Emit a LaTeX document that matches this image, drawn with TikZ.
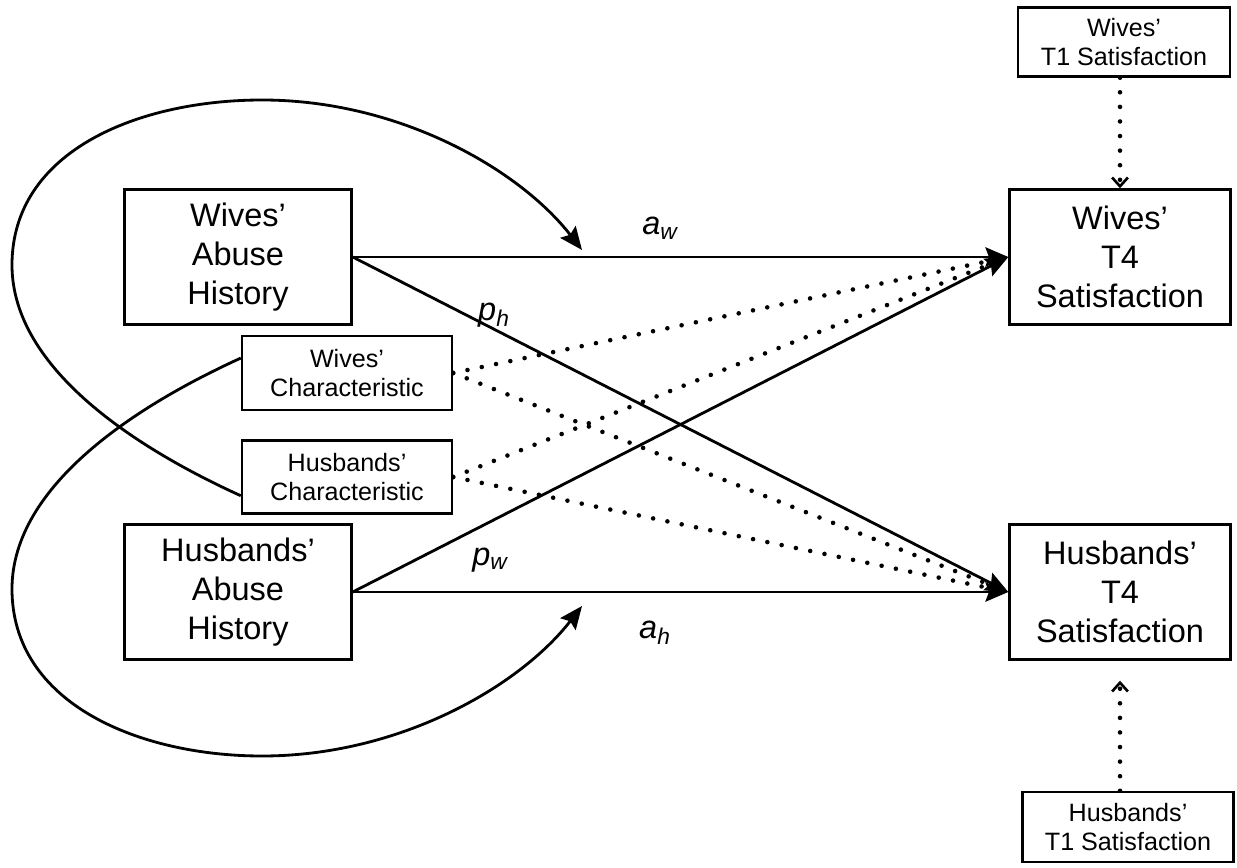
\documentclass[tikz,border=0pt]{standalone}
\usepackage{fontspec}
\setmainfont{Liberation Sans}
\usetikzlibrary{arrows.meta}
\newcommand{\boxfontL}{\fontsize{18.5}{22}\selectfont}
\newcommand{\boxfontS}{\fontsize{14.3}{16.5}\selectfont}
\tikzset{
  bigbox/.style={draw, line width=1.4pt, align=center, font=\boxfontL, inner sep=0pt, minimum height=2.7cm},
  smallbox/.style={draw, line width=1.4pt, align=center, font=\boxfontS, inner sep=0pt},
  solidarrow/.style={line width=1.6pt, -{Stealth[length=13pt,width=11pt,inset=2pt]}},
  dotline/.style={line width=2.6pt, line cap=round, dash pattern=on 0pt off 8.3pt},
  pathlab/.style={font=\boxfontL\itshape}
}

\begin{document}
\begin{tikzpicture}[x=0.02cm,y=-0.02cm]
\useasboundingbox (0,0) rectangle (1237,868);

\node[bigbox, minimum width=4.54cm] (wa) at (238,257) {Wives'\\Abuse\\History};
\node[bigbox, minimum width=4.54cm] (ha) at (238,592) {Husbands'\\Abuse\\History};
\node[bigbox, minimum width=4.42cm] (w4) at (1120,257) {Wives'\\T4\\Satisfaction};
\node[bigbox, minimum width=4.42cm] (h4) at (1120,592) {Husbands'\\T4\\Satisfaction};
\node[smallbox, minimum width=4.2cm, minimum height=1.48cm] (wc) at (347,373) {Wives'\\Characteristic};
\node[smallbox, minimum width=4.2cm, minimum height=1.46cm] (hc) at (347,477) {Husbands'\\Characteristic};
\node[smallbox, minimum width=4.24cm, minimum height=1.38cm] (w1) at (1124,42) {Wives'\\T1 Satisfaction};
\node[smallbox, minimum width=4.22cm, minimum height=1.4cm] (h1) at (1128,827) {Husbands'\\T1 Satisfaction};

% paths between partners
\draw[solidarrow] (wa.east) -- (w4.west);
\draw[solidarrow] (wa.east) -- (h4.west);
\draw[solidarrow] (ha.east) -- (w4.west);
\draw[solidarrow] (ha.east) -- (h4.west);
\node[pathlab] (law) at (660,228) {a\textsubscript{w}};
\node[pathlab] (lph) at (494,315) {p\textsubscript{h}};
\node[pathlab] (lpw) at (490,560) {p\textsubscript{w}};
\node[pathlab] (lah) at (655,633) {a\textsubscript{h}};

% covariates
\draw[dotline] (wc.east) -- (w4.west);
\draw[dotline] (wc.east) -- (h4.west);
\draw[dotline] (hc.east) -- (w4.west);
\draw[dotline] (hc.east) -- (h4.west);
\draw[dotline, -{Straight Barb[length=5pt,width=9pt,line width=1.5pt]}] (w1.south -| w4) -- (w4.north);
\draw[dotline, shorten >=0.4cm, -{Straight Barb[length=5pt,width=9pt,line width=1.5pt]}] (h1.north -| h4) -- (h4.south);

% moderation loops
\coordinate (tipw) at (582,250);
\coordinate (tiph) at (582,606);
\draw[solidarrow] (hc.190) .. controls (140,450) and (12,370) .. (12,265)
  .. controls (12,150) and (140,100) .. (262,100)
  .. controls (400,100) and (520,170) .. (tipw);
\draw[solidarrow] (wc.172) .. controls (140,404) and (12,484) .. (12,589)
  .. controls (12,704) and (140,756) .. (262,756)
  .. controls (400,756) and (520,686) .. (tiph);
\end{tikzpicture}
\end{document}
